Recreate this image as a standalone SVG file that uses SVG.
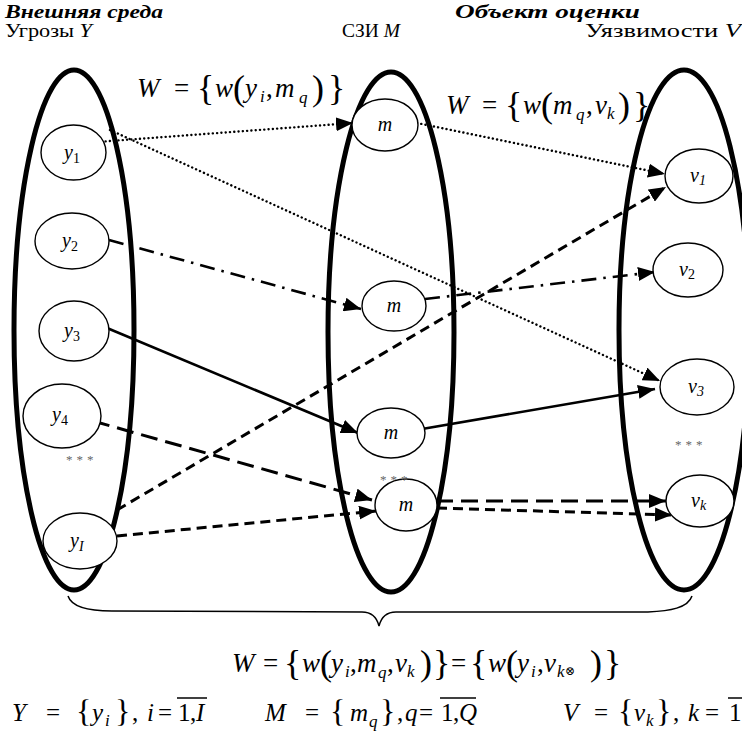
<svg xmlns="http://www.w3.org/2000/svg" width="742" height="731" viewBox="0 0 742 731" font-family="'Liberation Serif','DejaVu Serif',serif">
<defs>
<style>
text{font-family:"Liberation Serif","DejaVu Serif",serif;fill:#000}
.hdr{font-size:18px;font-weight:bold;font-style:italic}
.lbl{font-size:18px}
.it{font-style:italic}
.big{fill:none;stroke:#000;stroke-width:5}
.node{fill:#fff;stroke:#000;stroke-width:1.4}
.nl{font-size:20px;font-style:italic}
.sub{font-size:14px}
.stars{font-size:13px;fill:#666;letter-spacing:4px}
.c{fill:none;stroke:#000}
.dot{stroke-width:2.4;stroke-dasharray:0.1 4.2;stroke-linecap:round}
.dd{stroke-width:2.6;stroke-dasharray:15 7 2.5 7}
.sol{stroke-width:2.6}
.ld{stroke-width:3;stroke-dasharray:17 8}
.sd{stroke-width:3;stroke-dasharray:10 6}
.f{font-size:27px}
.g{font-size:25px}
.br{font-size:36px;font-style:normal}
.bs{font-size:32px;font-style:normal}
.fs{font-size:17px;font-style:italic}
.ov{stroke:#000;stroke-width:1.5}
</style>
<marker id="ah" markerUnits="userSpaceOnUse" markerWidth="18" markerHeight="14" refX="17" refY="7" orient="auto">
<path d="M0,0 L17,7 L0,14 z" fill="#000"/>
</marker>
</defs>

<g id="headers">
<text class="hdr" x="5" y="18" textLength="158" lengthAdjust="spacingAndGlyphs">Внешняя среда</text>
<text class="lbl" x="5" y="37" textLength="87" lengthAdjust="spacingAndGlyphs">Угрозы <tspan class="it">Y</tspan></text>
<text class="hdr" x="455" y="18" textLength="185" lengthAdjust="spacingAndGlyphs">Объект оценки</text>
<text class="lbl" x="342" y="37" textLength="58" lengthAdjust="spacingAndGlyphs">СЗИ <tspan class="it">M</tspan></text>
<text class="lbl" x="585" y="37" textLength="156" lengthAdjust="spacingAndGlyphs">Уязвимости <tspan class="it">V</tspan></text>
</g>

<g id="containers">
<ellipse class="big" cx="74" cy="330" rx="60" ry="260"/>
<ellipse class="big" cx="391" cy="332" rx="63" ry="260"/>
<ellipse class="big" cx="684" cy="330" rx="65" ry="260"/>
</g>

<g id="connectors">
<path class="c dot" d="M97,142 L353,123" marker-end="url(#ah)"/>
<path class="c dot" d="M417,123 L665,174" marker-end="url(#ah)"/>
<path class="c dot" d="M110,130 L660,381" marker-end="url(#ah)"/>
<path class="c dd" d="M109,240 L361,309" marker-end="url(#ah)"/>
<path class="c dd" d="M425,299 L655,272" marker-end="url(#ah)"/>
<path class="c sol" d="M107,328 L358,433" marker-end="url(#ah)"/>
<path class="c sol" d="M422,429 L655,389" marker-end="url(#ah)"/>
<path class="c ld" d="M93,421 L372,500" marker-end="url(#ah)"/>
<path class="c sd" d="M117,536 L376,511" marker-end="url(#ah)"/>
<path class="c sd" d="M117,510 L666,187" marker-end="url(#ah)"/>
<path class="c ld" d="M436,501 L666,501" marker-end="url(#ah)"/>
<path class="c sd" d="M437,508 L672,515" marker-end="url(#ah)"/>
</g>

<g id="y1"><ellipse class="node" cx="73.5" cy="152.5" rx="32.5" ry="27.5"/><text class="nl" x="64" y="159">y<tspan class="sub" font-style="normal" dy="4">1</tspan></text></g>
<g id="y2"><ellipse class="node" cx="72" cy="241" rx="37" ry="28"/><text class="nl" x="62" y="247">y<tspan class="sub" font-style="normal" dy="4">2</tspan></text></g>
<g id="y3"><ellipse class="node" cx="74" cy="331" rx="35" ry="30"/><text class="nl" x="64" y="337">y<tspan class="sub" font-style="normal" dy="4">3</tspan></text></g>
<g id="y4"><ellipse class="node" cx="62" cy="416" rx="39" ry="32"/><text class="nl" x="52" y="421">y<tspan class="sub" font-style="normal" dy="4">4</tspan></text></g>
<g id="yI"><ellipse class="node" cx="80" cy="541" rx="37" ry="28"/><text class="nl" x="70" y="547">y<tspan class="sub" dy="4">I</tspan></text></g>
<text class="stars" x="66" y="464">***</text>

<g id="m1"><ellipse class="node" cx="385" cy="125" rx="33" ry="26"/><text class="nl" x="385" y="131" text-anchor="middle">m</text></g>
<g id="m2"><ellipse class="node" cx="394" cy="306" rx="32" ry="25"/><text class="nl" x="394" y="312" text-anchor="middle">m</text></g>
<g id="m3"><ellipse class="node" cx="391" cy="433" rx="34" ry="25"/><text class="nl" x="391" y="439" text-anchor="middle">m</text></g>
<g id="m4"><ellipse class="node" cx="406" cy="505" rx="31" ry="26"/><text class="nl" x="406" y="511" text-anchor="middle">m</text></g>
<text class="stars" x="380" y="484">***</text>

<g id="v1"><ellipse class="node" cx="699" cy="176" rx="34" ry="27"/><text class="nl" x="690" y="182">v<tspan class="sub" dy="3">1</tspan></text></g>
<g id="v2"><ellipse class="node" cx="688" cy="270" rx="35" ry="27"/><text class="nl" x="679" y="276">v<tspan class="sub" font-style="normal" dy="3">2</tspan></text></g>
<g id="v3"><ellipse class="node" cx="697" cy="387" rx="37" ry="28"/><text class="nl" x="688" y="393">v<tspan class="sub" dy="3">3</tspan></text></g>
<g id="vk"><ellipse class="node" cx="700" cy="501" rx="34" ry="26"/><text class="nl" x="691" y="507">v<tspan class="sub" dy="3">k</tspan></text></g>
<text class="stars" x="675" y="449">***</text>

<g id="brace">
<path d="M68,596 C72,608 90,611 112,611 L362,612 C372,612 377,618 379,626 C381,618 386,612 396,612 L648,612 C670,611 688,608 692,596" fill="none" stroke="#000" stroke-width="1.5"/>
</g>

<g id="formulas">
<text class="f" y="97"><tspan class="it" x="137">W</tspan><tspan x="174">=</tspan><tspan class="br" x="197" y="100">{</tspan><tspan class="it" x="215" y="97">w</tspan><tspan class="br" x="233" y="100">(</tspan><tspan class="it" x="245" y="97">y</tspan><tspan class="fs" x="260" y="102">i</tspan><tspan x="266" y="97">,</tspan><tspan class="it" x="275">m</tspan><tspan class="fs" x="299" y="103">q</tspan><tspan class="br" x="312" y="100">)</tspan><tspan class="br" x="328">}</tspan></text>

<text class="f" y="114"><tspan class="it" x="446">W</tspan><tspan x="482">=</tspan><tspan class="br" x="505" y="117">{</tspan><tspan class="it" x="523" y="114">w</tspan><tspan class="br" x="541" y="117">(</tspan><tspan class="it" x="553" y="114">m</tspan><tspan class="fs" x="576" y="120">q</tspan><tspan x="586" y="114">,</tspan><tspan class="it" x="595">v</tspan><tspan class="fs" x="607" y="119">k</tspan><tspan class="br" x="618" y="117">)</tspan><tspan class="br" x="633">}</tspan></text>

<text class="f" y="672"><tspan class="it" x="232">W</tspan><tspan x="263">=</tspan><tspan class="br" x="284" y="675">{</tspan><tspan class="it" x="302" y="672">w</tspan><tspan class="br" x="320" y="675">(</tspan><tspan class="it" x="331" y="672">y</tspan><tspan class="fs" x="345" y="677">i</tspan><tspan x="350" y="672">,</tspan><tspan class="it" x="357">m</tspan><tspan class="fs" x="378" y="678">q</tspan><tspan x="387" y="672">,</tspan><tspan class="it" x="395">v</tspan><tspan class="fs" x="407" y="677">k</tspan><tspan class="br" x="420" y="675">)</tspan><tspan class="br" x="433">}</tspan><tspan x="451" y="672">=</tspan><tspan class="br" x="470" y="675">{</tspan><tspan class="it" x="488" y="672">w</tspan><tspan class="br" x="506" y="675">(</tspan><tspan class="it" x="517" y="672">y</tspan><tspan class="fs" x="531" y="677">i</tspan><tspan x="537" y="672">,</tspan><tspan class="it" x="544">v</tspan><tspan class="fs" x="557" y="677">k</tspan><tspan font-size="12" x="565" y="675">⊗</tspan><tspan class="br" x="590" y="675">)</tspan><tspan class="br" x="604">}</tspan></text>

<text class="g" y="721"><tspan class="it" x="12">Y</tspan><tspan x="46">=</tspan><tspan class="bs" x="76" y="722">{</tspan><tspan class="it" x="92" y="721">y</tspan><tspan class="fs" x="105" y="726">i</tspan><tspan class="bs" x="115" y="722">}</tspan><tspan x="132" y="721">,</tspan><tspan class="it" x="147">i</tspan><tspan x="158">=</tspan><tspan x="178">1</tspan><tspan x="190">,</tspan><tspan class="it" x="196">I</tspan></text>
<line class="ov" x1="177" y1="698" x2="207" y2="698"/>
<text class="g" y="721"><tspan class="it" x="265">M</tspan><tspan x="305">=</tspan><tspan class="bs" x="330" y="722">{</tspan><tspan class="it" x="350" y="721">m</tspan><tspan class="fs" x="369" y="727">q</tspan><tspan class="bs" x="380" y="722">}</tspan><tspan x="397" y="721">,</tspan><tspan class="it" x="405">q</tspan><tspan x="419">=</tspan><tspan x="441">1</tspan><tspan x="453">,</tspan><tspan class="it" x="459">Q</tspan></text>
<line class="ov" x1="440" y1="698" x2="476" y2="698"/>
<text class="g" y="721"><tspan class="it" x="563">V</tspan><tspan x="594">=</tspan><tspan class="bs" x="618" y="722">{</tspan><tspan class="it" x="634" y="721">v</tspan><tspan class="fs" x="646" y="726">k</tspan><tspan class="bs" x="656" y="722">}</tspan><tspan x="673" y="721">,</tspan><tspan class="it" x="688">k</tspan><tspan x="705">=</tspan><tspan x="729">1</tspan></text>
<line class="ov" x1="728" y1="698" x2="742" y2="698"/>
</g>
</svg>
